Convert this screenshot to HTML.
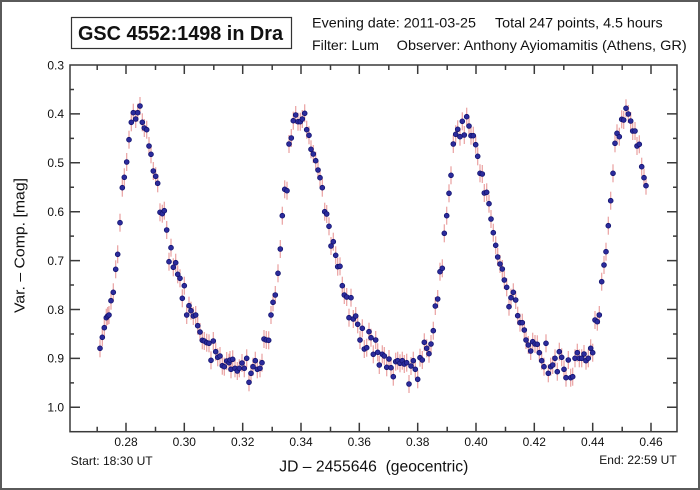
<!DOCTYPE html>
<html><head><meta charset="utf-8"><style>
html,body{margin:0;padding:0;background:#fff;}
svg{display:block;}
text{font-family:"Liberation Sans",Arial,sans-serif;fill:#111;}
</style></head><body>
<svg width="700" height="490" viewBox="0 0 700 490" xmlns="http://www.w3.org/2000/svg">
<rect x="1" y="1" width="698" height="488" fill="#fff" stroke="#5a5a5a" stroke-width="2"/>
<rect x="71.5" y="17.5" width="220" height="31" fill="#fff" stroke="#333" stroke-width="1.2"/>
<text x="78" y="40" font-size="20" font-weight="bold" textLength="205" lengthAdjust="spacingAndGlyphs">GSC 4552:1498 in Dra</text>
<text x="312" y="27.5" font-size="14" textLength="164" lengthAdjust="spacingAndGlyphs">Evening date: 2011-03-25</text>
<text x="495" y="27.5" font-size="14" textLength="167.7" lengthAdjust="spacingAndGlyphs">Total 247 points, 4.5 hours</text>
<text x="312" y="50" font-size="14" textLength="67" lengthAdjust="spacingAndGlyphs">Filter: Lum</text>
<text x="396.7" y="50" font-size="14" textLength="290" lengthAdjust="spacingAndGlyphs">Observer: Anthony Ayiomamitis (Athens, GR)</text>

<g id="errs" stroke="#e07878" stroke-width="1.2" stroke-opacity="0.7" fill="none"></g>
<g id="pts" fill="#2b2b9c" stroke="#12126e" stroke-width="0.8"></g>

<g stroke="#3a3a3a" stroke-width="1.5" fill="none">
<rect x="70" y="65" width="607" height="366.7"/>
<path d="M126 431.7v-9M184.3 431.7v-9M242.7 431.7v-9M301 431.7v-9M359.3 431.7v-9M417.7 431.7v-9M476 431.7v-9M534.3 431.7v-9M592.7 431.7v-9M651 431.7v-9
M97.2 431.7v-5M155.5 431.7v-5M213.8 431.7v-5M272.2 431.7v-5M330.5 431.7v-5M388.8 431.7v-5M447.2 431.7v-5M505.5 431.7v-5M563.8 431.7v-5M622.2 431.7v-5
M126 65v9M184.3 65v9M242.7 65v9M301 65v9M359.3 65v9M417.7 65v9M476 65v9M534.3 65v9M592.7 65v9M651 65v9
M97.2 65v5M155.5 65v5M213.8 65v5M272.2 65v5M330.5 65v5M388.8 65v5M447.2 65v5M505.5 65v5M563.8 65v5M622.2 65v5
M70 113.9h10M70 162.8h10M70 211.7h10M70 260.6h10M70 309.5h10M70 358.4h10M70 407.3h10
M70 89.45h4M70 138.35h4M70 187.25h4M70 236.15h4M70 285.05h4M70 333.95h4M70 382.85h4
M677 113.9h-10M677 162.8h-10M677 211.7h-10M677 260.6h-10M677 309.5h-10M677 358.4h-10M677 407.3h-10
M677 89.45h-4M677 138.35h-4M677 187.25h-4M677 236.15h-4M677 285.05h-4M677 333.95h-4M677 382.85h-4"/>
</g>

<g font-size="12" text-anchor="end">
<text x="64" y="69.3">0.3</text>
<text x="64" y="118.2">0.4</text>
<text x="64" y="167.1">0.5</text>
<text x="64" y="216">0.6</text>
<text x="64" y="264.9">0.7</text>
<text x="64" y="313.8">0.8</text>
<text x="64" y="362.7">0.9</text>
<text x="64" y="411.6">1.0</text>
</g>
<g font-size="12" text-anchor="middle">
<text x="126" y="446">0.28</text>
<text x="184.3" y="446">0.30</text>
<text x="242.7" y="446">0.32</text>
<text x="301" y="446">0.34</text>
<text x="359.3" y="446">0.36</text>
<text x="417.7" y="446">0.38</text>
<text x="476" y="446">0.40</text>
<text x="534.3" y="446">0.42</text>
<text x="592.7" y="446">0.44</text>
<text x="651" y="446">0.46</text>
</g>
<text x="70.7" y="465" font-size="12" textLength="82" lengthAdjust="spacingAndGlyphs">Start: 18:30 UT</text>
<text x="599.3" y="464" font-size="12" textLength="77.4" lengthAdjust="spacingAndGlyphs">End: 22:59 UT</text>
<text x="279.3" y="471.5" font-size="15.5" textLength="189" lengthAdjust="spacingAndGlyphs">JD – 2455646&#160; (geocentric)</text>
<text transform="translate(24.5,313) rotate(-90)" font-size="15" textLength="135" lengthAdjust="spacingAndGlyphs">Var. – Comp. [mag]</text>

<script>
var d=[
[100,348.3],[102.3,337.3],[104.3,327.7],[106.3,317.7],[107.7,316],[109,315],[111,300.7],[113.3,292.3],[115.7,269.3],[117.7,254.3],[120,222.7],[122.3,187.7],[124.3,177.3],[126.7,162],[129,139.7],[131.3,122.3],[133.3,112.7],[135.7,119],[137.7,112.7],[140,106],[142.3,122.3],[144.3,128],[146.7,129.7],[149,146],[151,154.3],[153.3,171],[155.7,176.3],[157.7,183.3],[160,212.3],[162.3,213.7],[164.3,210.7],[166.7,230],[171,247.7],[169,261.7],[173.3,267.3],[175.7,262.7],[177.7,274.3],[180,278.3],[184.3,285.7],[182.3,298.3],[189,305.7],[191,310.7],[186.7,315],[193.3,316],[195.7,315],[197.7,325.7],[200,332],[202.3,340.3],[204.3,341],[206.7,342.7],[209,343.3],[213.3,341],[215.7,351.7],[211,360.3],[217.7,357.3],[220,356],[222.3,365.7],[224.3,366.7],[226.7,361],[229,362.7],
[230,360],[232.7,359.3],[231,369.3],[235,368.3],[237.3,371],[239.3,368.3],[242,363],[244.3,368.3],[246.7,358.3],[249,382.3],[251,373.3],[253,366.7],[255.3,360.7],[257.3,369.3],[260,368.3],[262,362.7],[264,339],[266.3,340],[268.7,340.3],[271,315],[273,302.3],[275.3,295],[278,273.3],[280.3,249],[282.3,215.7],[284.7,189.3],[287,190.7],[289,144],[291.3,138],[293.3,120.7],[295.7,115],[298,121.7],[300.3,121.7],[302.3,119],[304.7,113.3],[306.7,129.7],[309,135.3],[311,149.3],[313.3,154],[315.7,160.7],[318,170],[320,177.7],[322.3,187.7],[324.7,211.7],[326.7,214],[329,226.3],[333.3,241.7],[331,246],[335.7,255.3],[337.7,266.7],[340,266.3],[342.3,285.7],[344.3,295],[346.7,297],[351,297.7],[349,317.7],[353.3,319],[355.7,316],[357.7,324.3],[362.3,328.3],[360,340],[364.3,349],[366.7,347.7],[369,331.7],[371,337.7],[375.7,340],[373.3,354.3],[377.7,352.3],[379.3,365],
[382.3,354.3],[384.3,356],[386.7,367.3],[389,359],[391,367.7],[393.3,376.7],[395.7,361.7],[397.7,360.7],[400,363.3],[402.3,360.7],[404.3,364],[406.7,362.7],[409,384],[411,366],[413.3,360.7],[415.3,369.3],[417.7,379.3],[420,357.7],[422.3,360],[424.3,342.3],[426.7,348.3],[429,353.7],[431,344],[433.3,330.7],[435.3,306],[437.7,299],[440,271.7],[442.3,268.3],[444.3,233.3],[446.7,215.7],[449,193.3],[451,175.3],[453.3,144],[455.7,134.3],[457.7,129.3],[460,136.7],[462.3,121.3],[464.3,135],[466.7,116.7],[469,126],[471,135.7],[473.3,135.7],[475.7,144.7],[477.7,156.3],[480,173.3],[482.3,174],[484.3,193],[486.7,192.3],[489,203.7],[491,219],[493.3,232.7],[495.7,245.3],[497.7,257],[500,264],[502.3,269],[504.3,280],[506.7,287.3],[509,306.7],[511,297.7],[513.3,292.3],[515.7,300],[517.7,315.7],[520,322.7],[522.3,322.7],[524.3,330],
[526,340],[528.3,345],[530.7,351],[532.7,341.7],[535,344],[537.3,344.3],[539.3,352.7],[541.7,360.7],[544,366.7],[546,343.3],[548.3,373.3],[550.7,366.7],[552.7,365],[555,358.3],[557.3,371.7],[559.3,351.7],[561.7,357.3],[564,369.3],[566,377.7],[568.3,360],[570.7,377.7],[572.7,376.7],[575,358.3],[577.3,352.7],[579.3,358.3],[581.7,358.3],[584,354],[586,360.7],[588.3,358.3],[590.7,348.3],[592.7,352.7],[595,320],[597.3,321.7],[599.3,315],[601.7,281.7],[604,265],[606,251.7],[608.3,225.7],[610.7,200.7],[613,173.3],[615,143.3],[617,133.3],[619.3,136.7],[621.7,119.3],[623.7,120],[626,108.3],[628.3,114],[630.7,121],[632.7,131],[635,131],[637,146],[639.3,144.3],[641.7,166.7],[644,177.7],[646,185.7]
];
var ns="http://www.w3.org/2000/svg",E=document.getElementById("errs"),P=document.getElementById("pts");
d.forEach(function(p){
 var l=document.createElementNS(ns,"line");
 l.setAttribute("x1",p[0]);l.setAttribute("x2",p[0]);
 l.setAttribute("y1",p[1]-9);l.setAttribute("y2",p[1]+9);E.appendChild(l);
 var c=document.createElementNS(ns,"circle");
 c.setAttribute("cx",p[0]);c.setAttribute("cy",p[1]);c.setAttribute("r",2.4);P.appendChild(c);
});
</script>
</svg>
</body></html>
